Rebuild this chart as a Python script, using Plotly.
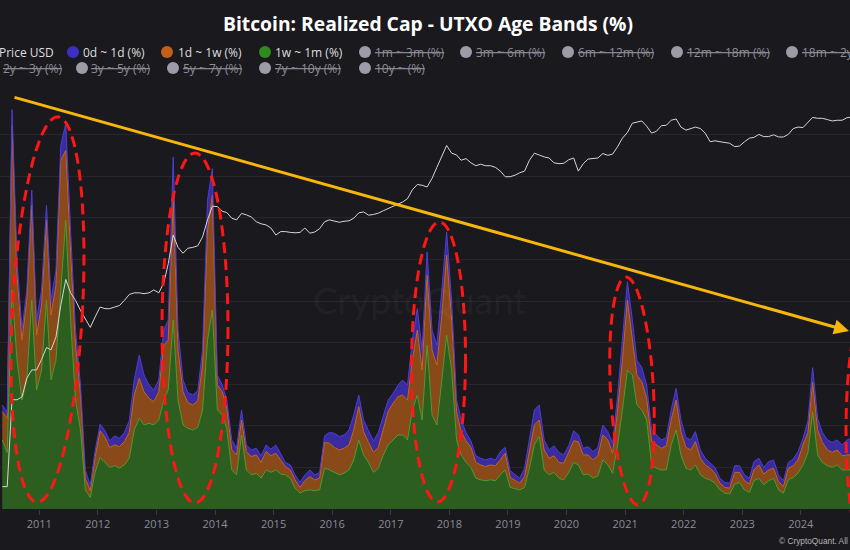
import math
import pandas as pd
import plotly.graph_objects as go

# ---------------- data (monthly) ----------------
months = pd.date_range("2010-05-01", periods=175, freq="MS") + pd.Timedelta(days=14)
dates = [d.strftime("%Y-%m-%d") for d in months]

band_1w_1m = [
    8.3, 6.8, 26.3, 17.9, 13.1, 15.5, 25.1, 14.3,
    16.7, 25.1, 15.5, 17.9, 26.3, 34.7, 22.7, 13.1, 9.5, 2.3, 1.4, 4.4,
    6.2, 5.6, 5.0, 5.2, 4.9, 5.3, 6.1, 9.5, 10.9, 10.1, 10.3, 10.1,
    10.7, 13.1, 14.3, 22.7, 13.1, 10.1, 9.7, 9.5, 9.8, 11.9, 20.3, 23.9,
    11.9, 11.3, 9.7, 4.7, 4.1, 8.9, 4.7, 4.1, 4.3, 3.7, 4.7, 4.4,
    4.7, 4.2, 4.1, 3.7, 2.5, 1.9, 2.2, 2.3, 2.2, 2.3, 4.9, 4.7,
    4.4, 4.1, 4.3, 4.7, 5.9, 8.3, 6.5, 5.6, 4.4, 4.9, 6.5, 7.7,
    8.3, 8.9, 8.9, 8.3, 11.9, 13.7, 10.7, 19.7, 11.3, 10.1, 15.5, 20.9,
    16.7, 8.3, 6.5, 5.6, 5.0, 3.7, 3.5, 3.4, 3.5, 3.4, 4.1, 4.7,
    2.6, 2.4, 2.3, 2.6, 4.9, 7.7, 8.7, 4.7, 4.1, 4.4, 3.7, 3.5,
    4.4, 5.6, 5.3, 4.1, 4.2, 3.7, 4.0, 5.9, 5.3, 4.3, 7.7, 11.9,
    16.7, 16.1, 12.5, 11.9, 10.7, 5.3, 4.9, 4.7, 4.7, 7.7, 9.5, 6.5,
    4.9, 4.7, 5.3, 4.1, 3.7, 3.5, 3.1, 2.3, 1.9, 1.8, 3.0, 3.2,
    2.3, 2.0, 3.4, 3.7, 2.9, 3.4, 3.7, 2.3, 1.9, 3.5, 3.8, 4.3,
    5.3, 6.8, 11.7, 6.5, 5.6, 5.2, 5.0, 5.3, 4.7, 4.7, 4.7,
]
band_1d_1w = [
    3.4, 4.1, 19.8, 10.2, 7.2, 9.6, 11.4, 6.6,
    7.8, 9.6, 7.8, 9.0, 15.6, 8.4, 8.4, 6.6, 4.2, 1.4, 0.8, 1.8,
    3.2, 3.0, 2.4, 2.5, 2.6, 2.8, 3.1, 4.2, 4.8, 4.0, 3.0, 2.8,
    3.4, 6.6, 6.0, 14.4, 6.0, 4.0, 3.1, 3.0, 3.2, 5.4, 13.2, 13.8,
    3.0, 2.8, 2.4, 2.4, 2.4, 1.8, 2.2, 2.2, 2.2, 1.9, 2.2, 2.0,
    2.0, 1.6, 1.0, 1.0, 1.0, 0.7, 1.2, 1.6, 1.3, 1.4, 3.1, 3.2,
    3.0, 3.0, 3.0, 3.0, 3.6, 4.0, 2.8, 2.4, 2.4, 2.5, 3.2, 4.0,
    4.4, 4.6, 4.8, 4.8, 6.0, 7.8, 6.0, 8.4, 7.8, 7.2, 7.8, 9.6,
    6.0, 3.4, 2.8, 2.6, 2.4, 1.9, 1.8, 1.7, 1.8, 1.8, 1.8, 2.0,
    1.2, 1.0, 0.8, 1.3, 2.2, 2.4, 2.0, 2.4, 2.0, 2.0, 1.9, 2.0,
    2.4, 2.6, 2.8, 2.4, 2.3, 2.2, 2.4, 3.0, 3.0, 2.4, 4.2, 6.0,
    8.4, 4.6, 3.6, 3.4, 2.6, 2.8, 2.8, 2.6, 2.9, 3.0, 3.6, 2.8,
    2.5, 2.4, 2.8, 2.0, 1.6, 1.4, 1.2, 0.8, 0.7, 0.7, 1.4, 1.2,
    1.1, 1.0, 1.3, 1.6, 1.3, 1.3, 1.2, 1.0, 0.8, 1.4, 1.4, 1.6,
    2.4, 2.4, 3.5, 3.0, 2.4, 1.9, 1.8, 1.8, 1.7, 1.8, 1.8,
]
band_0d_1d = [
    0.8, 0.7, 1.9, 1.8, 1.2, 1.2, 1.8, 1.8,
    1.8, 1.8, 1.8, 1.8, 1.8, 3.2, 2.4, 1.8, 1.2, 1.0, 0.6, 0.8,
    0.8, 0.8, 0.8, 1.1, 1.0, 1.1, 1.4, 1.8, 2.8, 2.0, 1.6, 1.4,
    1.4, 1.8, 2.4, 5.2, 2.4, 1.4, 1.2, 1.2, 1.2, 1.8, 3.6, 3.2,
    1.2, 0.8, 1.0, 1.2, 0.8, 1.2, 0.8, 0.8, 0.8, 0.8, 0.8, 0.8,
    1.0, 0.7, 0.5, 0.6, 0.6, 0.6, 0.7, 0.8, 0.6, 0.7, 0.8, 1.3,
    1.7, 1.6, 1.6, 1.8, 1.8, 1.4, 1.4, 1.4, 1.4, 1.8, 1.6, 1.4,
    1.2, 1.4, 1.8, 1.8, 2.4, 2.6, 2.4, 2.8, 2.4, 2.4, 3.0, 2.8,
    2.4, 1.4, 1.4, 1.0, 0.8, 0.8, 0.8, 0.8, 0.8, 0.7, 1.0, 0.7,
    0.8, 0.7, 0.6, 1.0, 1.2, 1.8, 1.8, 1.2, 1.0, 1.2, 1.2, 1.0,
    0.8, 1.2, 0.8, 0.8, 1.0, 1.0, 1.0, 1.2, 1.0, 1.2, 1.8, 2.4,
    2.2, 2.0, 1.8, 1.7, 1.6, 1.4, 1.2, 1.0, 1.0, 1.2, 1.4, 1.4,
    1.2, 1.2, 1.2, 1.0, 0.8, 0.7, 0.7, 0.6, 0.6, 0.6, 0.8, 0.8,
    0.7, 0.7, 1.0, 0.8, 0.8, 1.0, 1.0, 0.8, 0.7, 0.7, 0.8, 1.0,
    0.8, 1.4, 1.8, 1.4, 1.2, 1.2, 1.2, 1.2, 1.3, 1.8, 2.0,
]
price_usd = [
    0.001, 0.001, 0.07, 0.07, 0.08, 0.2, 0.3, 0.3,
    0.5, 0.9, 0.8, 1.5, 7, 25, 13, 9, 5.5, 3.6, 2.4, 4,
    6.5, 6, 6, 6.5, 7, 9, 12, 13, 13, 12.5, 13, 15,
    13, 21, 54, 220, 120, 90, 115, 120, 130, 200, 460, 900,
    880, 700, 660, 500, 460, 630, 590, 530, 420, 380, 360, 310,
    220, 260, 260, 250, 245, 250, 310, 240, 255, 300, 420, 460,
    430, 410, 430, 440, 500, 650, 680, 580, 600, 640, 720, 800,
    900, 1000, 1100, 1300, 2000, 2600, 2500, 2300, 3500, 6000, 10000, 17500,
    12000, 11000, 8500, 9200, 7500, 6500, 7000, 6500, 6500, 6000, 5000, 3800,
    3800, 4100, 4600, 5000, 8500, 12000, 11000, 10000, 9500, 7500, 7200, 7300,
    8700, 9500, 5000, 7200, 9000, 9400, 9500, 11800, 10800, 11500, 16500, 25000,
    33000, 52000, 55000, 58000, 45000, 32000, 35000, 46000, 47000, 60000, 64000, 43000,
    37000, 40000, 43000, 40000, 32000, 21000, 22000, 21000, 20000, 19500, 16500, 17000,
    21000, 25000, 26000, 30000, 27000, 27000, 29500, 26500, 26500, 30000, 40000, 43000,
    42000, 55000, 69000, 66000, 66000, 62000, 58000, 60000, 60000, 68000, 70000,
]

year_ticks = list(range(2011, 2025))
active_legend = ["0d ~ 1d (%)", "1d ~ 1w (%)", "1w ~ 1m (%)"]
hidden_legend_row1 = ["1m ~ 3m (%)", "3m ~ 6m (%)", "6m ~ 12m (%)", "12m ~ 18m (%)", "18m ~ 2y (%)"]
hidden_legend_row2 = ["3y ~ 5y (%)", "5y ~ 7y (%)", "7y ~ 10y (%)", "10y ~ (%)"]

# ---------------- styling / layout ----------------
W, H = 850, 550
TOP, BOT = 93, 509
BG = "#1a191e"
FONT = "Open Sans"


def px(x):
    return x / W


def py(y):
    return (BOT - y) / (BOT - TOP)


fig = go.Figure()
fig.add_trace(go.Scatter(x=dates, y=band_1w_1m, name="1w ~ 1m (%)", stackgroup="age", mode="lines",
                         line=dict(color="#4b9f30", width=1), fillcolor="#2c5e1f"))
fig.add_trace(go.Scatter(x=dates, y=band_1d_1w, name="1d ~ 1w (%)", stackgroup="age", mode="lines",
                         line=dict(color="#c8661f", width=1), fillcolor="#8a4918"))
fig.add_trace(go.Scatter(x=dates, y=band_0d_1d, name="0d ~ 1d (%)", stackgroup="age", mode="lines",
                         line=dict(color="#4d3fd6", width=1), fillcolor="#3a2c9f"))
fig.add_trace(go.Scatter(x=dates, y=price_usd, name="Price USD", yaxis="y2", mode="lines",
                         line=dict(color="#d6d6d6", width=1)))

shapes = []
annotations = []


def ellipse(cx, cy, a, b, tilt_deg):
    th = math.radians(tilt_deg)
    pts = []
    for i in range(73):
        t = 2 * math.pi * i / 72
        x, y = a * math.cos(t), b * math.sin(t)
        xr = cx + x * math.cos(th) - y * math.sin(th)
        yr = cy + x * math.sin(th) + y * math.cos(th)
        pts.append(f"{px(xr):.5f},{py(yr):.5f}")
    return "M" + " L".join(pts) + " Z"


for cx, cy, a, b, tilt in [(47.5, 309.5, 35, 193, 3.1), (195, 328, 33, 175, 0),
                           (438.5, 362, 27, 140, 0.4), (632, 391, 21.5, 114, -3.0),
                           (871, 430, 25, 133, 0)]:
    shapes.append(dict(type="path", xref="paper", yref="paper", path=ellipse(cx, cy, a, b, tilt),
                       line=dict(color="#ff1616", width=3, dash="11px,6px"), layer="above"))

# trend line with arrow
annotations.append(dict(xref="paper", yref="paper", x=px(853), y=py(331), ax=13 - 853, ay=97 - 331,
                        axref="pixel", ayref="pixel", showarrow=True, arrowhead=2, arrowsize=1,
                        arrowwidth=3, arrowcolor="#f7b60c", text=""))

# watermark
annotations.append(dict(xref="paper", yref="paper", x=px(420), y=py(299), text="CryptoQuant",
                        showarrow=False, font=dict(family="Lato", size=37, color="rgba(255,255,255,0.05)")))
# footer
annotations.append(dict(xref="paper", yref="paper", x=px(778), y=py(541), xanchor="left", yanchor="middle",
                        text="© CryptoQuant. All rights reserved.", showarrow=False, borderpad=0,
                        font=dict(family="Liberation Sans", size=8.3, color="#b5b5b5")))

# ---- manual legend ----
ROW1, ROW2 = 52, 68
ON_TXT, OFF_TXT, OFF_DOT = "#dedede", "#8d8d98", "#9c9ca8"


def dot(cx, cy, color):
    shapes.append(dict(type="circle", xref="paper", yref="paper", xsizemode="pixel", ysizemode="pixel",
                       xanchor=px(cx), yanchor=py(cy), x0=-6, x1=6, y0=-6, y1=6,
                       fillcolor=color, line=dict(width=0), layer="above"))


def label(x, y, text, color, anchor="left"):
    annotations.append(dict(xref="paper", yref="paper", x=px(x), y=py(y), xanchor=anchor, yanchor="middle",
                            text=text, showarrow=False, borderpad=0, borderwidth=0,
                            font=dict(family=FONT, size=12, color=color)))


label(-1, ROW1, "Price USD", ON_TXT)
active_pos = [(73, 83), (167, 178), (265, 275)]
active_cols = ["#3c2fc2", "#c45f17", "#2f8a1f"]
for (cxp, tx), name, col in zip(active_pos, active_legend, active_cols):
    dot(cxp, ROW1, col)
    label(tx, ROW1, name, ON_TXT)
row1_pos = [(365, 375), (466, 476), (568, 578), (677, 687), (792, 802)]
for (cxp, tx), name in zip(row1_pos, hidden_legend_row1):
    dot(cxp, ROW1, OFF_DOT)
    label(tx, ROW1, "<s>" + name + "</s>", OFF_TXT)
label(62, ROW2, "<s>2y ~ 3y (%)</s>", OFF_TXT, anchor="right")
row2_pos = [(82, 91), (173, 183), (265, 275), (365, 375)]
for (cxp, tx), name in zip(row2_pos, hidden_legend_row2):
    dot(cxp, ROW2, OFF_DOT)
    label(tx, ROW2, "<s>" + name + "</s>", OFF_TXT)

fig.update_layout(
    width=W, height=H,
    margin=dict(l=0, r=0, t=TOP, b=H - BOT, pad=0),
    paper_bgcolor=BG, plot_bgcolor=BG,
    showlegend=False,
    title=dict(text="<b>Bitcoin: Realized Cap - UTXO Age Bands (%)</b>", xref="container", yref="container",
               x=428 / W, xanchor="center", y=1 - 24 / H, yanchor="middle",
               font=dict(family=FONT, size=19.3, color="#ffffff")),
    xaxis=dict(type="date", range=["2010-05-01", "2024-11-03"],
               tickvals=[f"{y}-01-01" for y in year_ticks], ticktext=[str(y) for y in year_ticks],
               ticks="outside", ticklen=5, tickcolor="#3c3b42", showgrid=False, zeroline=False,
               showline=False, tickfont=dict(family=FONT, size=11, color="#8c8c96")),
    yaxis=dict(range=[0, 50], dtick=5, showgrid=True, gridcolor="#27262c", gridwidth=1,
               showticklabels=False, zeroline=False, ticks=""),
    yaxis2=dict(overlaying="y", side="right", type="log", range=[-3.475, 5.357], showgrid=False,
                showticklabels=False, zeroline=False, ticks=""),
    shapes=shapes, annotations=annotations,
)

fig.write_html("out.html")
